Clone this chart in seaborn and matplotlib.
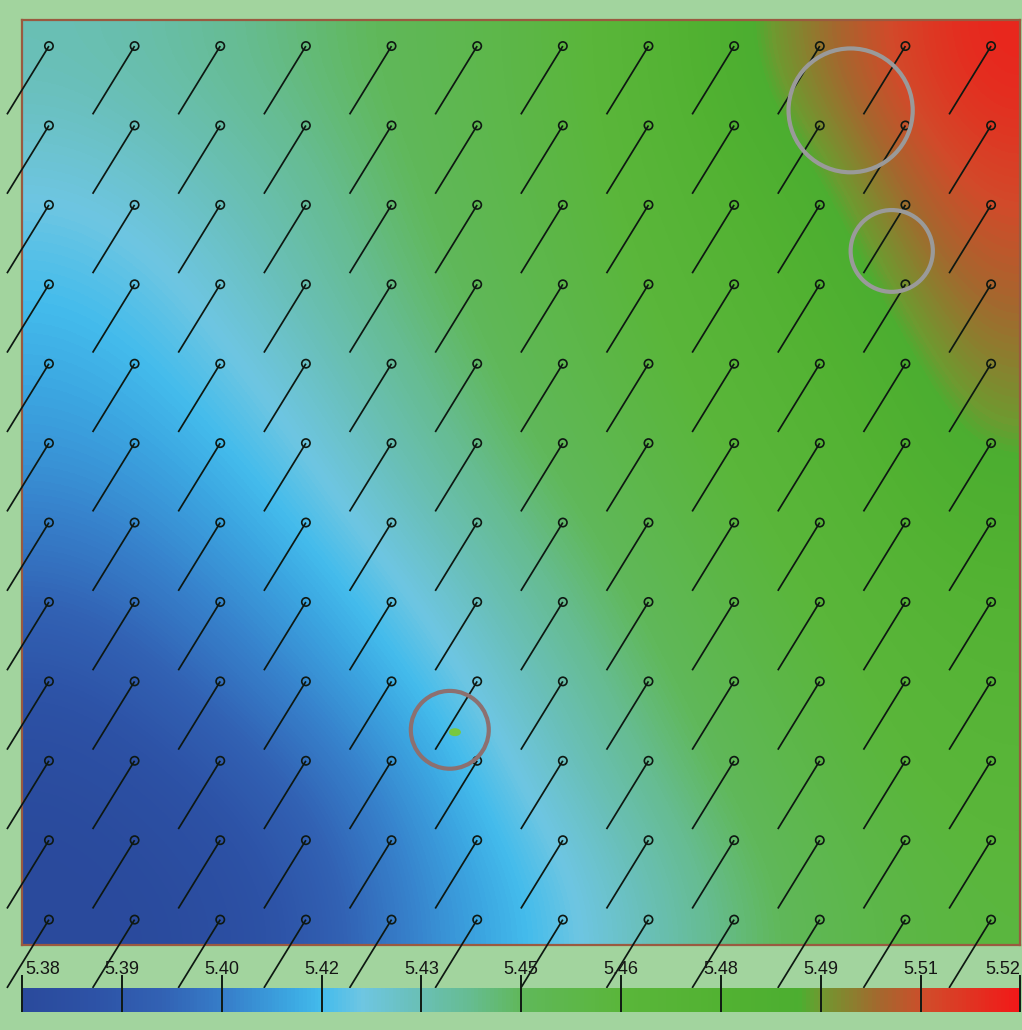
import numpy as np
import matplotlib
matplotlib.use("Agg")
import matplotlib.pyplot as plt
from matplotlib.colors import LinearSegmentedColormap
from matplotlib.collections import LineCollection
from matplotlib.patches import Ellipse
import matplotlib.transforms as mtransforms
import seaborn as sns

# field values (rows top->bottom, cols left->right)
field_rows = [
    [5.436, 5.440, 5.446, 5.452, 5.458, 5.467, 5.489, 5.503, 5.517],
    [5.429, 5.434, 5.441, 5.450, 5.457, 5.465, 5.479, 5.494, 5.510],
    [5.423, 5.428, 5.437, 5.447, 5.455, 5.463, 5.472, 5.487, 5.503],
    [5.418, 5.423, 5.431, 5.442, 5.452, 5.460, 5.468, 5.478, 5.496],
    [5.412, 5.417, 5.425, 5.436, 5.447, 5.456, 5.464, 5.472, 5.488],
    [5.402, 5.410, 5.418, 5.428, 5.440, 5.451, 5.460, 5.467, 5.476],
    [5.390, 5.400, 5.411, 5.421, 5.433, 5.446, 5.456, 5.463, 5.470],
    [5.382, 5.388, 5.400, 5.414, 5.427, 5.440, 5.452, 5.460, 5.466],
    [5.380, 5.382, 5.392, 5.410, 5.421, 5.433, 5.447, 5.456, 5.462],
]
vmin, vmax = 5.38, 5.52
tick_labels = ["5.38", "5.39", "5.40", "5.42", "5.43", "5.45",
               "5.46", "5.48", "5.49", "5.51", "5.52"]

# pin grid (12 x 12) and wind direction of every pin
n_cols, n_rows = 12, 12
pin_dx, pin_dy = -0.49, 0.86

# highlighted spots: x, y, width, height, colour
marks_x = [9.36, 9.84, 4.68]
marks_y = [0.81, 2.58, 8.61]
marks_w = [1.45, 0.96, 0.91]
marks_h = [1.56, 1.03, 0.98]
marks_c = ["#9a9a9a", "#9a9a9a", "#8c7070"]

cmap = LinearSegmentedColormap.from_list("field", [
    (0.00, "#2a4a9c"), (0.07, "#2d52a6"), (0.14, "#3262b4"),
    (0.21, "#3782cc"), (0.27, "#3ca8e2"), (0.30, "#44bcec"),
    (0.34, "#6ec6e2"), (0.39, "#6ac0bc"), (0.45, "#66bc90"),
    (0.50, "#60b85a"), (0.60, "#5ab63a"), (0.70, "#52b232"),
    (0.78, "#4cae30"), (0.80, "#6e9a30"), (0.86, "#a4682e"),
    (0.91, "#d24a2a"), (1.00, "#f21818"),
])

sns.set_theme(style="white")
plt.rcParams["font.family"] = ["Liberation Sans", "DejaVu Sans"]

bg = "#a2d49e"
fig = plt.figure(figsize=(10.22, 10.30), dpi=100, facecolor=bg)
ax = fig.add_axes([0.0215, 0.0825, 0.977, 0.898])
cax = fig.add_axes([0.0215, 0.0175, 0.977, 0.0233])

x0, x1, y0, y1 = -0.315, 11.343, -0.327, 11.32
im = ax.imshow(np.array(field_rows), cmap=cmap, vmin=vmin, vmax=vmax,
               extent=(x0, x1, y1, y0), aspect="auto", interpolation="bicubic")
ax.set_xlim(x0, x1)
ax.set_ylim(y1, y0)
ax.set_xticks([])
ax.set_yticks([])
for s in ax.spines.values():
    s.set_color("#9a5a40")
    s.set_linewidth(1.6)

# pins
gx, gy = np.meshgrid(np.arange(n_cols), np.arange(n_rows))
hx, hy = gx.ravel(), gy.ravel()
segs = [[(x, y), (x + pin_dx, y + pin_dy)] for x, y in zip(hx, hy)]
lc = LineCollection(segs, colors="#0e1812", linewidths=1.25, zorder=3)
lc.set_clip_on(False)
ax.add_collection(lc)
sns.scatterplot(x=hx, y=hy, ax=ax, s=36, marker="o", facecolors="none",
                edgecolors="#0e1812", linewidth=1.2, zorder=4, clip_on=False)

for x, y, w, h, c in zip(marks_x, marks_y, marks_w, marks_h, marks_c):
    ax.add_patch(Ellipse((x, y), w, h, fill=False, ec=c, lw=3, zorder=5))
ax.add_patch(Ellipse((4.74, 8.64), 0.14, 0.1, fc="#78c840", ec="none", zorder=5))

# colour bar
cb = fig.colorbar(im, cax=cax, orientation="horizontal")
cb.outline.set_visible(False)
cax.set_xticks([])
tick_vals = np.linspace(vmin, vmax, len(tick_labels))
trans = mtransforms.blended_transform_factory(cax.transData, cax.transAxes)
cax.vlines(tick_vals, 0, 1.55, colors="#101a14", lw=1.4, transform=trans, clip_on=False)
for i, (v, lab) in enumerate(zip(tick_vals, tick_labels)):
    ha = "left" if i == 0 else ("right" if i == len(tick_labels) - 1 else "center")
    off = 0.0005 if i == 0 else 0
    cax.text(v + off, 1.75, lab, ha=ha, va="center", fontsize=13,
             color="#151515", transform=trans)

fig.savefig("out.png", dpi=100, facecolor=bg)
